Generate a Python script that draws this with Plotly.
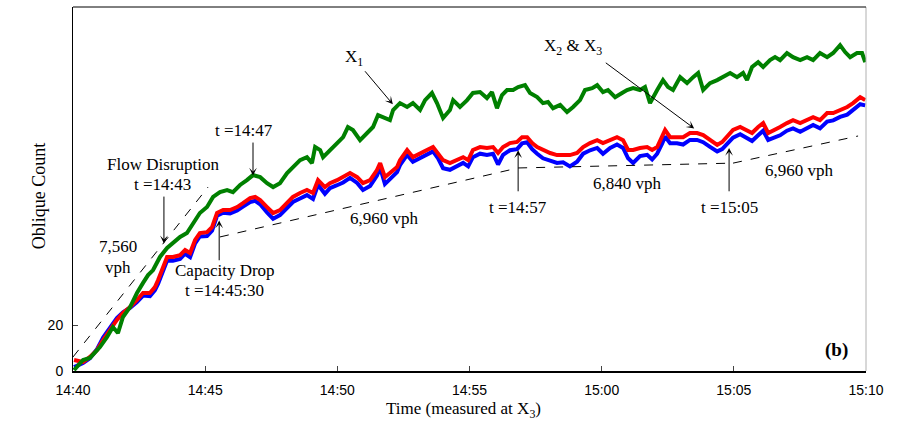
import plotly.graph_objects as go

# minutes after 14:40
x1_t = [0.04,0.38,0.64,1.02,1.29,1.51,1.70,1.89,2.16,2.42,2.65,2.84,3.03,3.29,3.56,3.78,4.05,4.31,4.54,4.80,
        5.07,5.30,5.56,5.83,6.05,6.32,6.58,6.81,7.08,7.34,7.57,7.83,8.10,8.32,8.59,8.85,9.04,9.16,9.35,9.46,
        9.72,9.99,10.22,10.40,10.59,10.86,11.12,11.35,11.54,11.73,11.99,12.11,12.37,12.64,12.86,13.13,13.32,13.58,13.77,14.00,
        14.26,14.38,14.64,14.91,15.13,15.40,15.66,15.85,16.04,16.23,16.42,16.65,16.84,17.10,17.29,17.56,17.78,17.97,18.16,18.43,
        18.69,18.92,19.18,19.37,19.64,19.83,20.05,20.24,20.51,20.77,20.96,21.19,21.45,21.64,21.83,22.10,22.32,22.51,22.70,22.97,
        23.23,23.46,23.65,23.84,24.10,24.37,24.59,24.86,25.12,25.35,25.50,25.69,25.92,26.11,26.37,26.56,26.75,27.01,27.24,27.51,
        27.77,28.00,28.26,28.53,28.76,29.02,29.21,29.40,29.66,29.85,29.97]
x1_count = [0.4,4.8,5.7,10.4,14.8,19.1,16.5,23.5,27.8,33.9,38.3,41.7,43.9,49.6,53.5,55.7,58.3,60.0,64.3,68.7,
            71.3,75.7,77.8,78.7,77.8,80.9,83.0,85.2,84.3,81.7,80.0,81.7,86.1,88.7,91.7,93.0,90.4,97.4,96.1,93.0,
            96.1,99.1,101.7,106.1,104.8,100.4,103.5,106.1,111.3,110.4,109.1,113.5,116.5,114.8,116.5,113.5,117.8,120.9,116.5,110.0,
            113.5,117.8,114.8,117.8,120.9,121.3,118.7,121.3,114.3,120.0,122.2,122.2,123.5,124.3,120.9,119.1,116.5,117.0,114.3,115.7,
            112.6,114.8,117.8,122.2,123.0,124.3,121.3,122.2,119.1,120.9,122.2,123.0,122.2,123.5,116.5,122.2,126.5,123.5,122.2,127.8,
            125.2,127.8,129.6,122.2,125.2,126.5,127.8,129.6,127.8,129.6,126.5,132.2,134.3,132.2,135.2,136.5,135.2,138.3,136.5,135.2,
            136.5,135.2,138.3,136.5,138.3,141.7,138.7,136.5,138.3,138.3,134.3]

x23_t = [0.04,0.38,0.64,0.91,1.14,1.40,1.66,1.89,2.16,2.42,2.65,2.91,3.10,3.22,3.41,3.56,3.78,4.05,4.24,4.43,
         4.62,4.80,5.07,5.26,5.45,5.68,5.94,6.21,6.43,6.70,6.89,7.08,7.34,7.57,7.83,8.10,8.32,8.59,8.85,9.08,
         9.27,9.53,9.72,9.99,10.22,10.48,10.75,10.97,11.24,11.50,11.62,11.80,11.99,12.26,12.37,12.64,12.86,13.13,13.39,13.62,
         13.81,14.00,14.26,14.53,14.76,14.95,15.13,15.40,15.66,15.89,16.08,16.27,16.53,16.80,16.99,17.18,17.37,17.56,17.78,18.05,
         18.31,18.54,18.80,19.07,19.30,19.56,19.83,20.05,20.32,20.58,20.81,21.00,21.19,21.45,21.72,21.91,22.10,22.29,22.40,22.59,
         22.85,23.08,23.34,23.61,23.84,24.10,24.37,24.56,24.74,24.97,25.24,25.50,25.69,25.92,26.11,26.30,26.49,26.75,27.01,27.24,
         27.51,27.77,28.00,28.26,28.53,28.76,29.02,29.29,29.51,29.78,29.97]
x2_count = [4.8,3.9,6.1,9.1,13.5,17.8,22.2,25.2,27.8,30.9,33.9,33.9,36.5,39.6,45.2,49.6,49.6,50.4,52.6,51.3,
            57.0,60.0,60.4,62.6,68.7,70.0,70.0,71.3,73.0,75.2,75.7,74.3,71.3,68.7,70.0,73.0,75.7,77.4,78.7,77.4,
            83.0,80.0,81.7,83.0,84.3,86.1,84.3,81.7,83.0,87.4,90.4,84.3,86.1,88.7,91.7,96.1,93.0,94.8,96.1,97.4,
            94.8,91.7,90.4,91.7,93.0,91.7,96.1,97.4,97.0,97.4,94.8,97.4,99.1,99.6,101.7,101.7,99.1,97.4,96.1,94.8,
            93.9,93.9,93.9,94.8,97.4,99.1,100.4,99.1,100.4,101.7,100.4,96.1,96.1,97.0,97.4,96.1,97.4,101.7,104.8,101.7,
            101.7,101.7,103.5,103.5,102.6,100.4,98.3,99.6,101.7,104.8,106.1,104.8,103.5,106.1,107.8,103.5,104.8,106.1,107.8,109.1,
            107.8,109.1,110.4,109.1,112.2,112.2,113.5,114.8,116.5,119.1,117.8]
x3_count = [1.7,3.5,5.5,9.5,14.5,19.0,23.0,25.5,27.5,30.0,32.8,32.5,35.2,38.0,43.5,48.0,48.0,48.7,51.0,49.5,
            55.5,58.5,58.7,61.0,67.5,68.8,68.5,69.8,71.5,73.5,74.0,72.5,69.0,66.2,67.8,70.8,73.5,75.0,76.5,74.8,
            81.0,77.0,79.5,80.8,82.0,84.0,81.8,78.7,80.5,85.0,88.5,81.3,83.5,86.5,89.5,94.0,91.0,92.5,94.0,95.5,
            92.5,88.2,87.5,89.0,90.5,89.0,93.0,94.5,94.0,94.5,89.8,94.0,96.0,96.5,99.0,99.5,96.5,94.5,92.5,91.5,
            90.5,90.8,89.0,91.0,94.5,96.0,97.0,94.5,97.0,98.5,97.0,92.5,90.5,93.5,94.0,92.0,94.5,99.0,102.0,99.0,
            99.0,98.5,100.5,100.5,99.5,97.5,95.5,96.5,98.5,101.5,103.0,101.5,100.0,102.5,104.5,100.5,101.5,102.5,104.5,105.5,
            104.0,105.5,107.0,105.5,108.5,109.0,110.5,111.5,113.5,116.0,115.5]

# dashed reference (flow-rate) lines
ref_t = [[0.0, 5.11], [5.56, 16.84], [16.84, 24.97], [24.97, 29.70]]
ref_count = [[6.1, 80.0], [58.3, 88.3], [88.3, 90.4], [90.4, 102.2]]

tick_vals = [0, 5, 10, 15, 20, 25, 30]
tick_text = ["14:40", "14:45", "14:50", "14:55", "15:00", "15:05", "15:10"]

SERIF = "Liberation Serif"
FS = 17
fig = go.Figure()
fig.add_trace(go.Scatter(x=x23_t, y=x3_count, mode="lines", line=dict(color="#0000ff", width=4), name="X3"))
fig.add_trace(go.Scatter(x=x23_t, y=x2_count, mode="lines", line=dict(color="#ff0000", width=4), name="X2"))
fig.add_trace(go.Scatter(x=x1_t, y=x1_count, mode="lines", line=dict(color="#008000", width=4), name="X1"))
for xs, ys in zip(ref_t, ref_count):
    fig.add_trace(go.Scatter(x=xs, y=ys, mode="lines", line=dict(color="black", width=1, dash="dash")))

def txt(x, y, s, size=FS, bold=False):
    fig.add_annotation(x=x, y=y, text=f"<b>{s}</b>" if bold else s, showarrow=False,
                       font=dict(family=SERIF, size=size, color="black"))

def arrow(x0, y0, x1, y1):
    fig.add_annotation(x=x1, y=y1, ax=x0, ay=y0, axref="x", ayref="y", xref="x", yref="y",
                       text="", showarrow=True, arrowhead=3, arrowsize=1.3, arrowwidth=1, arrowcolor="black")

# labels
txt(10.64, 136.1, "X<sub>1</sub>")
arrow(11.0, 131.0, 12.1, 116.0)
txt(18.9, 141.0, "X<sub>2</sub> &amp; X<sub>3</sub>")
arrow(20.1, 134.5, 23.5, 105.5)
txt(6.45, 104.5, "t =14:47")
arrow(6.81, 100.0, 6.81, 85.0)
txt(3.4, 89.8, "Flow Disruption")
txt(3.4, 81.0, "t =14:43")
arrow(3.44, 76.5, 3.44, 55.5)
txt(1.7, 54.3, "7,560")
txt(1.7, 45.0, "vph")
txt(5.75, 43.8, "Capacity Drop")
txt(5.75, 35.0, "t =14:45:30")
arrow(5.53, 47.5, 5.53, 65.5)
txt(11.8, 66.5, "6,960 vph")
txt(16.84, 71.3, "t =14:57")
arrow(16.84, 77.5, 16.84, 96.0)
txt(20.96, 81.7, "6,840 vph")
txt(24.82, 71.3, "t =15:05")
arrow(24.82, 77.5, 24.82, 97.0)
txt(27.5, 87.0, "6,960 vph")
txt(28.87, 9.1, "(b)", size=19, bold=True)

# axis titles
fig.add_annotation(xref="paper", yref="paper", x=0.492, y=-0.107, yanchor="middle", showarrow=False,
                   text="Time (measured at X<sub>3</sub>)", font=dict(family=SERIF, size=17, color="black"))
fig.add_annotation(xref="paper", yref="paper", x=-0.058, y=0.48, textangle=-90, showarrow=False,
                   text="Oblique Count", font=dict(family=SERIF, size=18, color="black"))

fig.add_shape(type="line", xref="paper", yref="paper", x0=1, x1=1, y0=0, y1=1,
              line=dict(color="#b0b0b0", width=1))
fig.add_shape(type="line", xref="paper", yref="paper", x0=0, x1=1, y0=1, y1=1, line=dict(color="black", width=1))

fig.update_layout(
    width=899, height=423, margin=dict(l=73, r=33, t=7, b=52),
    paper_bgcolor="white", plot_bgcolor="white", showlegend=False,
    xaxis=dict(range=[0, 30], tickvals=tick_vals, ticktext=tick_text, ticks="inside", ticklen=5,
               showline=True, linecolor="black", linewidth=1.5, showgrid=False, zeroline=False,
               ticklabelstandoff=5, automargin=False,
               tickfont=dict(family="Liberation Sans", size=14, color="black")),
    yaxis=dict(range=[0, 158.3], tickvals=[0, 20], ticks="inside", ticklen=5,
               showline=True, linecolor="black", linewidth=1, showgrid=False, zeroline=False,
               ticklabelstandoff=6, automargin=False,
               tickfont=dict(family="Liberation Sans", size=14, color="black")),
)

fig.write_html("out.html")
